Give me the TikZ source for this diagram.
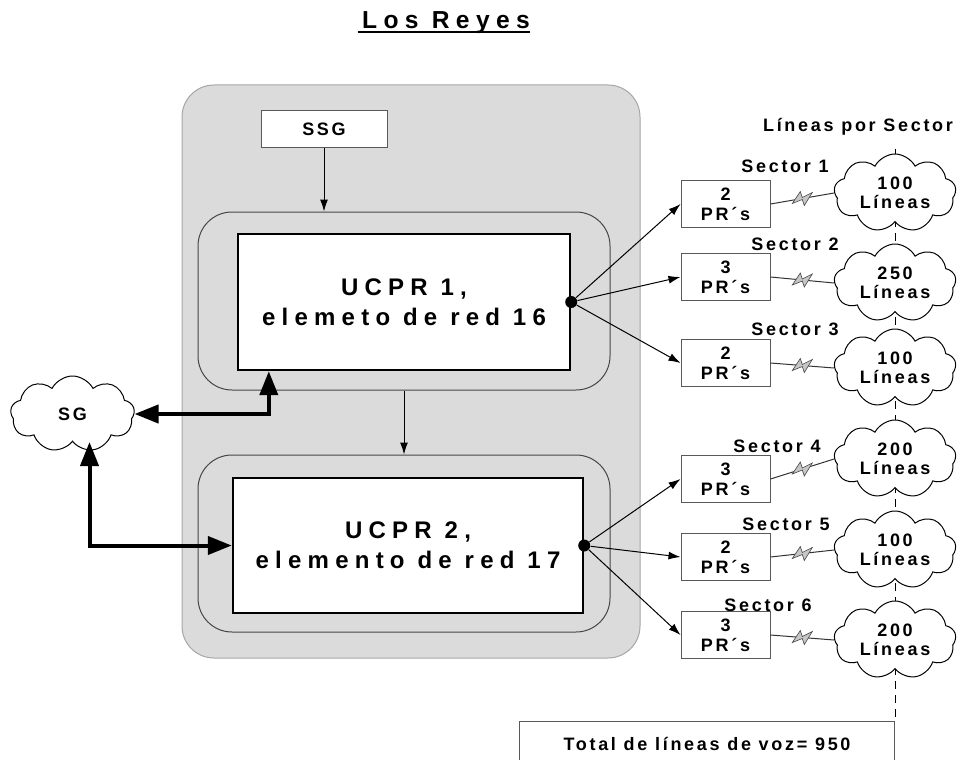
\documentclass[tikz,border=0pt]{standalone}
\usepackage{fontspec}
\setmainfont{Liberation Sans}
\newfontfamily\trackfont[LetterSpace=15]{Liberation Sans}
\newfontfamily\widefont[LetterSpace=26]{Liberation Sans}
\usepackage{xcolor}
\usepackage{tikz}
\usetikzlibrary{arrows.meta,positioning,calc,shapes.symbols}

\begin{document}
\begin{tikzpicture}[x=0.5pt,y=-0.5pt,
  zone/.style={draw=gray!70,fill=black!14,rounded corners=16pt,line width=0.5pt},
  ring/.style={draw=gray!55!black,fill=black!14,rounded corners=17pt,line width=0.5pt},
  ucpr/.style={draw=black,fill=white,line width=1.2pt,align=center,
    font=\widefont\bfseries\fontsize{12}{15}\selectfont},
  plainbox/.style={draw=gray!70!black,fill=white,line width=0.5pt,align=center,
    font=\trackfont\bfseries\fontsize{9}{10}\selectfont},
  linecloud/.style={cloud,cloud puffs=9,cloud puff arc=125,cloud ignores aspect,draw=black,fill=white,
    line width=0.5pt,minimum width=61pt,minimum height=39pt,inner sep=0pt,align=center,
    font=\trackfont\bfseries\fontsize{9}{9.5}\selectfont},
  sectortext/.style={font=\trackfont\bfseries\fontsize{9}{10}\selectfont},
  link/.style={-{Latex[length=6pt,width=4pt]},line width=0.5pt},
  bus/.style={{Triangle[length=12pt,width=9pt]}-{Triangle[length=12pt,width=9pt]},line width=2pt},
  radio/.style={draw=gray!40!black,line width=0.5pt},
  hub/.style={circle,fill=black,inner sep=0pt,minimum size=6pt},
  bolt/.pic={\filldraw[fill=gray!45,draw=gray!55!black,line width=0.3pt]
    (-10,5) -- (-2,-7) -- (0,-1) -- (10,-6) -- (2,7) -- (0,1) -- cycle;}]
  \useasboundingbox (0,0) rectangle (961,759);
  \node[anchor=base,inner sep=0pt,font=\widefont\bfseries\fontsize{12.3}{14}\selectfont] (title) at (446,29) {Los Reyes};
  \draw[line width=1.3pt] ([xshift=-2pt,yshift=-1.5pt]title.base west) -- ([yshift=-1.5pt]title.base east);

  \draw[zone] (182,85) rectangle (640,658);   % site
  \node[ring,minimum width=206pt,minimum height=89pt] (ring1) at (404,301) {};
  \node[ring,minimum width=206pt,minimum height=88.5pt] (ring2) at (404,543.5) {};
  \node[plainbox,minimum width=63pt,minimum height=18.5pt] (ssg) at (324,129.5) {SSG};
  \node[ucpr,minimum width=166pt,minimum height=68pt] (ucpr1) at (404,302) {UCPR 1,\\elemeto de red 16};
  \node[ucpr,minimum width=175pt,minimum height=67.5pt] (ucpr2) at (408,545.5) {UCPR 2,\\elemento de red 17};
  \node[hub] (hub1) at (ucpr1.east) {};
  \node[hub] (hub2) at (ucpr2.east) {};
  \node[linecloud,minimum width=62pt,minimum height=38pt] (sg) at (72.5,414) {SG};

  % primary boxes per sector
  \node[plainbox,minimum width=44.5pt,minimum height=21pt] (pr1) at (725.5,204) {2\\PR´s};
  \node[plainbox,minimum width=44.5pt,minimum height=21pt] (pr2) at (725.5,277) {3\\PR´s};
  \node[plainbox,minimum width=44.5pt,minimum height=21pt] (pr3) at (725.5,363) {2\\PR´s};
  \node[plainbox,minimum width=44.5pt,minimum height=21pt] (pr4) at (725.5,479) {3\\PR´s};
  \node[plainbox,minimum width=44.5pt,minimum height=21pt] (pr5) at (725.5,557) {2\\PR´s};
  \node[plainbox,minimum width=44.5pt,minimum height=21pt] (pr6) at (725.5,635) {3\\PR´s};
  \node[sectortext] (s1) at (785,166) {Sector 1};
  \node[sectortext] (s2) at (795,244) {Sector 2};
  \node[sectortext] (s3) at (795,329) {Sector 3};
  \node[sectortext] (s4) at (777,446) {Sector 4};
  \node[sectortext] (s5) at (786,524) {Sector 5};
  \node[sectortext] (s6) at (768,605) {Sector 6};
  \node[sectortext,anchor=base] (lps) at (858,132) {Líneas por Sector};

  \node[plainbox,minimum width=187.5pt,minimum height=22pt,anchor=north east] (total) at (895,721) {Total de líneas de voz= 950};
  \coordinate (axis) at (895,149);
  \draw[dashed,dash pattern=on 4pt off 3pt,line width=0.5pt] (axis) -- (total.north east);

  \node[linecloud] (cl1) at (895,193) {100\\Líneas};
  \node[linecloud] (cl2) at (895,283) {250\\Líneas};
  \node[linecloud] (cl3) at (895,368) {100\\Líneas};
  \node[linecloud] (cl4) at (895,459) {200\\Líneas};
  \node[linecloud] (cl5) at (895,550) {100\\Líneas};
  \node[linecloud] (cl6) at (895,640) {200\\Líneas};

  \draw[link] (ssg) -- (ssg |- ring1.north);
  \draw[link] (ring1.south) -- (ring2.north);
  \draw[bus] (sg.east) -| ([xshift=16pt]ucpr1.south west);
  \draw[bus] ([xshift=8.5pt]sg.south) |- (ucpr2.west);

  \draw[link] (hub1) -- (pr1.west);
  \draw[link] (hub1) -- (pr2.west);
  \draw[link] (hub1) -- (pr3.west);
  \draw[link] (hub2) -- (pr4.west);
  \draw[link] (hub2) -- (pr5.west);
  \draw[link] (hub2) -- (pr6.west);

  % radio links
  \draw[radio] (pr1.east) -- (cl1.west); \pic at ($(pr1.east)!.5!(cl1.west)$) {bolt};
  \draw[radio] (pr2.east) -- (cl2.west); \pic at ($(pr2.east)!.5!(cl2.west)$) {bolt};
  \draw[radio] (pr3.east) -- (cl3.west); \pic at ($(pr3.east)!.5!(cl3.west)$) {bolt};
  \draw[radio] (pr4.east) -- (cl4.west); \pic at ($(pr4.east)!.5!(cl4.west)$) {bolt};
  \draw[radio] (pr5.east) -- (cl5.west); \pic at ($(pr5.east)!.5!(cl5.west)$) {bolt};
  \draw[radio] (pr6.east) -- (cl6.west); \pic at ($(pr6.east)!.5!(cl6.west)$) {bolt};
\end{tikzpicture}
\end{document}
